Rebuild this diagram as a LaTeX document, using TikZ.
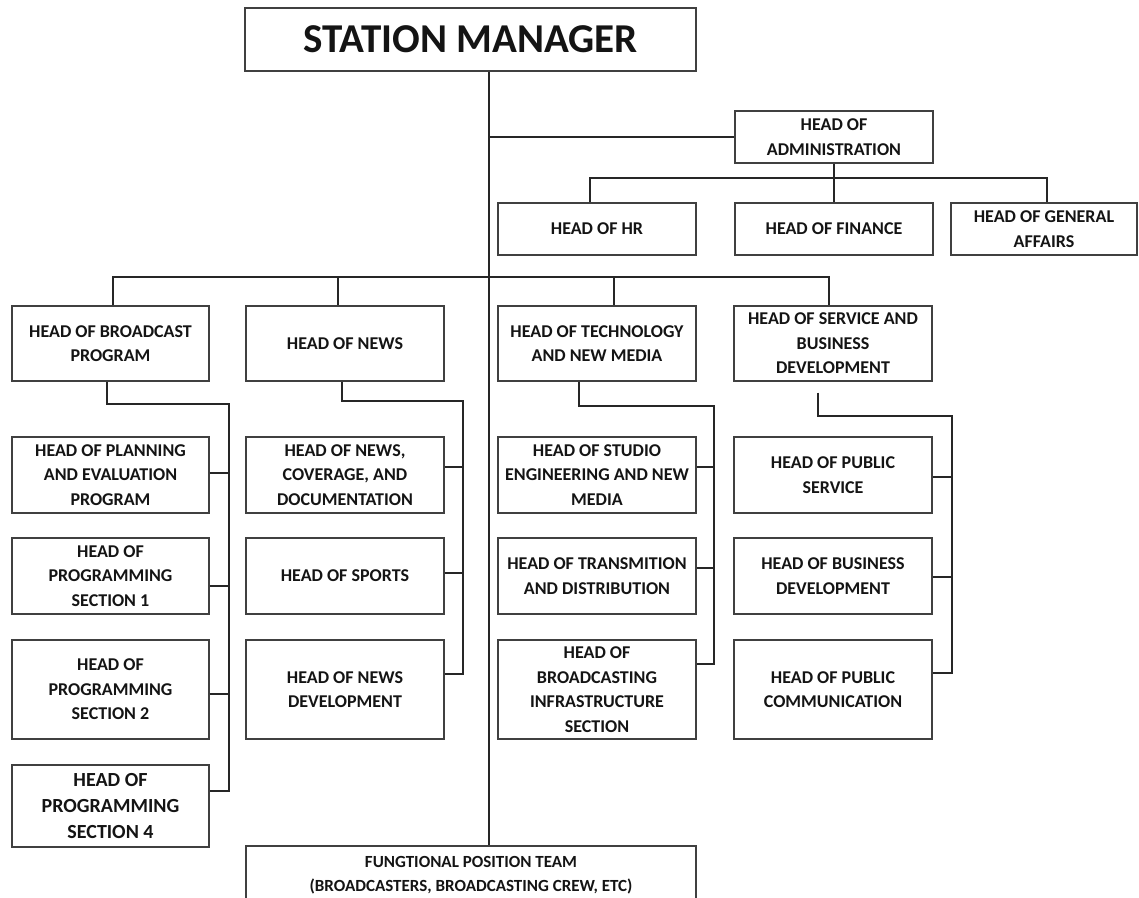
\documentclass[tikz,border=0pt]{standalone}
\usepackage{fontspec}
\setmainfont{Carlito}
\begin{document}
\begin{tikzpicture}[x=1pt,y=-1pt,
  box/.style={draw=black!75, line width=1.3pt, fill=white, inner sep=0pt, align=center,
    font=\bfseries\fontsize{18}{24.5}\selectfont, text=black!92},
  ln/.style={line width=2pt, draw=black!85}]
\useasboundingbox (0,0) rectangle (1139,897);
\clip (0,0) rectangle (1139,897);
% top
\node[box, minimum width=451pt, minimum height=63pt, font=\bfseries\fontsize{41}{44}\selectfont] (sm) at (470.5,39.5) {STATION MANAGER};
\node[box, minimum width=198pt, minimum height=52pt] (adm) at (834,137) {HEAD OF\\ADMINISTRATION};
\node[box, minimum width=198pt, minimum height=52pt] (hr) at (597,229) {HEAD OF HR};
\node[box, minimum width=198pt, minimum height=52pt] (fin) at (834,229) {HEAD OF FINANCE};
\node[box, minimum width=186pt, minimum height=52pt] (ga) at (1044,229) {HEAD OF GENERAL\\AFFAIRS};
% level 2
\node[box, minimum width=197pt, minimum height=75pt] (bp) at (110.5,343.5) {HEAD OF BROADCAST\\PROGRAM};
\node[box, minimum width=198pt, minimum height=75pt] (nw) at (345,343.5) {HEAD OF NEWS};
\node[box, minimum width=198pt, minimum height=75pt] (tc) at (597,343.5) {HEAD OF TECHNOLOGY\\AND NEW MEDIA};
\node[box, minimum width=198pt, minimum height=75pt] (sv) at (833,343.5) {HEAD OF SERVICE AND\\BUSINESS\\DEVELOPMENT};
% level 3 broadcast
\node[box, minimum width=197pt, minimum height=76pt] (pl) at (110.5,475) {HEAD OF PLANNING\\AND EVALUATION\\PROGRAM};
\node[box, minimum width=197pt, minimum height=76pt] (s1) at (110.5,576) {HEAD OF\\PROGRAMMING\\SECTION 1};
\node[box, minimum width=197pt, minimum height=99pt] (s2) at (110.5,689.5) {HEAD OF\\PROGRAMMING\\SECTION 2};
\node[box, minimum width=197pt, minimum height=82pt, font=\bfseries\fontsize{20}{26}\selectfont] (s4) at (110.5,806) {HEAD OF\\PROGRAMMING\\SECTION 4};
% news
\node[box, minimum width=198pt, minimum height=76pt] (nc) at (345,475) {HEAD OF NEWS,\\COVERAGE, AND\\DOCUMENTATION};
\node[box, minimum width=198pt, minimum height=76pt] (sp) at (345,576) {HEAD OF SPORTS};
\node[box, minimum width=198pt, minimum height=99pt] (nd) at (345,689.5) {HEAD OF NEWS\\DEVELOPMENT};
% tech
\node[box, minimum width=198pt, minimum height=76pt] (st) at (597,475) {HEAD OF STUDIO\\ENGINEERING AND NEW\\MEDIA};
\node[box, minimum width=198pt, minimum height=76pt] (tr) at (597,576) {HEAD OF TRANSMITION\\AND DISTRIBUTION};
\node[box, minimum width=198pt, minimum height=99pt] (inf) at (597,689.5) {HEAD OF\\BROADCASTING\\INFRASTRUCTURE\\SECTION};
% service
\node[box, minimum width=198pt, minimum height=76pt] (ps) at (833,475) {HEAD OF PUBLIC\\SERVICE};
\node[box, minimum width=198pt, minimum height=76pt] (bd) at (833,576) {HEAD OF BUSINESS\\DEVELOPMENT};
\node[box, minimum width=198pt, minimum height=99pt] (pc) at (833,689.5) {HEAD OF PUBLIC\\COMMUNICATION};
% bottom
\node[box, minimum width=450pt, minimum height=58pt, font=\bfseries\fontsize{17}{24}\selectfont] (fp) at (471,875) {FUNGTIONAL POSITION TEAM\\(BROADCASTERS, BROADCASTING CREW, ETC)};

% trunk
\coordinate (t) at (489,0);
\draw[ln] (sm.south -| t) -- (fp.north -| t);
\draw[ln] (t |- adm.west) -- (adm.west);
% admin
\coordinate (ab) at ([yshift=-14pt]adm.south);
\coordinate (hrd) at ([xshift=-7pt]hr.north);
\coordinate (gad) at ([xshift=3pt]ga.north);
\draw[ln] (adm.south) -- (fin.north);
\draw[ln] (hrd) -- (hrd |- ab) -- (gad |- ab) -- (gad);
% level 2 bus
\coordinate (bus) at (0,277);
\coordinate (bpd) at ([xshift=2.5pt]bp.north);
\coordinate (nwd) at ([xshift=-7pt]nw.north);
\coordinate (tcd) at ([xshift=17pt]tc.north);
\coordinate (svd) at ([xshift=-4pt]sv.north);
\draw[ln] (bpd) -- (bpd |- bus) -- (svd |- bus) -- (svd);
\draw[ln] (nwd |- bus) -- (nwd);
\draw[ln] (tcd |- bus) -- (tcd);
% broadcast sub
\coordinate (bpv) at (229,404);
\coordinate (plt) at ([yshift=2pt]pl.east);
\coordinate (s1t) at ([yshift=-10pt]s1.east);
\coordinate (s2t) at ([yshift=-4.5pt]s2.east);
\coordinate (s4t) at ([yshift=15pt]s4.east);
\draw[ln] ([xshift=-3.5pt]bp.south) |- (bpv) -- (bpv |- s4t) -- (s4t);
\foreach \c in {plt,s1t,s2t} \draw[ln] (\c) -- (\c -| bpv);
% news sub
\coordinate (nwv) at (463,401);
\coordinate (nct) at ([yshift=8pt]nc.east);
\coordinate (spt) at ([yshift=3pt]sp.east);
\coordinate (ndt) at ([yshift=15.5pt]nd.east);
\draw[ln] ([xshift=-3pt]nw.south) |- (nwv) -- (nwv |- ndt) -- (ndt);
\foreach \c in {nct,spt} \draw[ln] (\c) -- (\c -| nwv);
% tech sub
\coordinate (tcv) at (714,406);
\coordinate (stt) at ([yshift=8pt]st.east);
\coordinate (trt) at ([yshift=8pt]tr.east);
\coordinate (inft) at ([yshift=25.5pt]inf.east);
\draw[ln] ([xshift=-18pt]tc.south) |- (tcv) -- (tcv |- inft) -- (inft);
\foreach \c in {stt,trt} \draw[ln] (\c) -- (\c -| tcv);
% service sub
\coordinate (svv) at (952,416);
\coordinate (pst) at ([yshift=-2pt]ps.east);
\coordinate (bdt) at ([yshift=-1pt]bd.east);
\coordinate (pct) at ([yshift=16.5pt]pc.east);
\draw[ln] ([xshift=-15pt,yshift=-11pt]sv.south) |- (svv) -- (svv |- pct) -- (pct);
\foreach \c in {pst,bdt} \draw[ln] (\c) -- (\c -| svv);
\end{tikzpicture}
\end{document}
